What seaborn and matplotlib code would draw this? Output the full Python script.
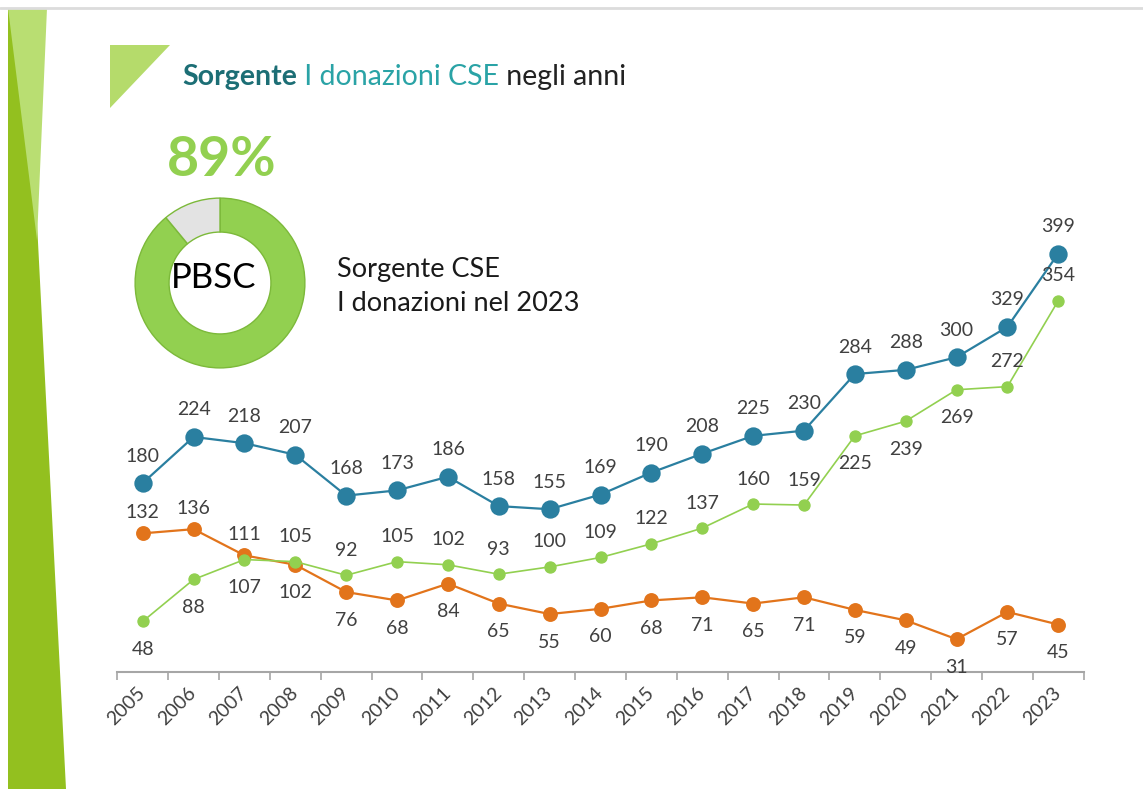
import numpy as np
import pandas as pd
import matplotlib
matplotlib.use("Agg")
import matplotlib.pyplot as plt
from matplotlib.patches import Polygon
import seaborn as sns


# ----------------------------
# Data
# ----------------------------

years = [str(y) for y in range(2005, 2024)]

totale = [180, 224, 218, 207, 168, 173, 186, 158, 155, 169,
          190, 208, 225, 230, 284, 288, 300, 329, 399]
pbsc = [48, 88, 107, 105, 92, 105, 102, 93, 100, 109,
        122, 137, 160, 159, 225, 239, 269, 272, 354]
bm = [132, 136, 111, 102, 76, 68, 84, 65, 55, 60,
      68, 71, 65, 71, 59, 49, 31, 57, 45]

# label above (a) or below (b) each point
pos_totale = ["a"] * 19
pos_pbsc = ["b", "b", "b"] + ["a"] * 11 + ["b", "b", "b", "a", "a"]
pos_bm = ["a", "a", "a"] + ["b"] * 16

donut_values = [89, 11]
donut_pct = "89%"
donut_label = "PBSC"

title_parts = ["Sorgente", " I donazioni CSE", " negli anni"]
subtitle = ["Sorgente CSE", "I donazioni nel 2023"]


# ----------------------------
# Style
# ----------------------------

W, H = 1143, 789
BLUE = "#2A7FA0"
GREEN = "#92D050"
ORANGE = "#E2741B"
TXT = "#404040"

sns.set_theme(style="white")
plt.rcParams["font.family"] = ["Lato", "DejaVu Sans"]


def fx(x):
    return x / W


def fy(y):
    return 1 - y / H


fig = plt.figure(figsize=(W / 100, H / 100), dpi=100)
fig.patch.set_facecolor("white")


# ----------------------------
# Slide decorations
# ----------------------------

def poly(pts, color, z=0):
    p = Polygon([(fx(x), fy(y)) for x, y in pts], closed=True,
                transform=fig.transFigure, facecolor=color,
                edgecolor="none", zorder=z)
    fig.patches.append(p)


poly([(8, 8), (26, 8), (66, 789), (8, 789)], "#93C01F")
poly([(8, 8), (47, 8), (37, 240)], "#B9DE72", 1)
poly([(110, 45), (170, 45), (110, 108)], "#B5DB6B")

fig.add_artist(plt.Line2D([0, 1], [fy(8), fy(8)], transform=fig.transFigure,
                          color="#dcdcdc", lw=2))


# ----------------------------
# Title
# ----------------------------

renderer = fig.canvas.get_renderer()
x = fx(182)
for txt, col, wt in zip(title_parts, ["#1C6E75", "#2AA3A6", "#222222"],
                        ["bold", "normal", "normal"]):
    t = fig.text(x, fy(85), txt, fontsize=20.5, color=col, fontweight=wt,
                 va="baseline", ha="left")
    bb = t.get_window_extent(renderer)
    x = fig.transFigure.inverted().transform((bb.x1, 0))[0]


# ----------------------------
# Donut
# ----------------------------

dax = fig.add_axes([fx(130), fy(373), 180 / W, 180 / H])
dax.pie(donut_values, colors=[GREEN, "#E3E3E3"], startangle=90,
        counterclock=False, radius=1,
        wedgeprops=dict(width=0.40, edgecolor="#7CB93A", linewidth=1))
dax.set_xlim(-1.06, 1.06)
dax.set_ylim(-1.06, 1.06)
dax.set_aspect("equal")
dax.axis("off")

fig.text(fx(222), fy(160), donut_pct, fontsize=40, fontweight="bold",
         color=GREEN, ha="center", va="center")
fig.text(fx(214), fy(278), donut_label, fontsize=25, color="black",
         ha="center", va="center")

fig.text(fx(337), fy(277), subtitle[0], fontsize=19.5, color="#1a1a1a",
         va="baseline", ha="left")
fig.text(fx(337), fy(311), subtitle[1], fontsize=19.5, color="#1a1a1a",
         va="baseline", ha="left")


# ----------------------------
# Line chart
# ----------------------------

ax = fig.add_axes([fx(117.3), 1 - 671.7 / H, (1083.7 - 117.3) / W,
                   (671.7 - 231.5) / H])
ax.set_facecolor("none")

series = [
    (bm, ORANGE, 9.5, 1.6, pos_bm, 21),
    (pbsc, GREEN, 8, 1.2, pos_pbsc, 25),
    (totale, BLUE, 12, 1.6, pos_totale, 27),
]

for vals, col, ms, lw, pos, up in series:
    df = pd.DataFrame({"year": years, "value": vals})
    sns.pointplot(data=df, x="year", y="value", color=col, markers="o",
                  markersize=ms, linewidth=lw, errorbar=None, ax=ax)
    for i, (v, p) in enumerate(zip(vals, pos)):
        off = up if p == "a" else -28
        ax.annotate(str(v), (i, v), xytext=(0, off),
                    textcoords="offset pixels", ha="center", va="center",
                    fontsize=14, color=TXT, zorder=10)

ax.set_xlim(-0.5, len(years) - 0.5)
ax.set_ylim(0, 420)
ax.set_xlabel("")
ax.set_ylabel("")
ax.set_yticks([])

for s in ["top", "right", "left"]:
    ax.spines[s].set_visible(False)
ax.spines["bottom"].set_color("#a6a6a6")
ax.spines["bottom"].set_linewidth(1.5)

ax.set_xticks(range(len(years)))
ax.set_xticklabels(years, rotation=45, ha="right", va="center",
                   rotation_mode="anchor", fontsize=14, color=TXT)
ax.set_xticks(np.arange(-0.5, len(years), 1), minor=True)
ax.tick_params(axis="x", which="major", length=0, pad=13, bottom=True)
ax.tick_params(axis="x", which="minor", length=6, width=1.2,
               color="#a6a6a6", direction="out", bottom=True)

plt.savefig("out.png", dpi=100)
plt.close()
